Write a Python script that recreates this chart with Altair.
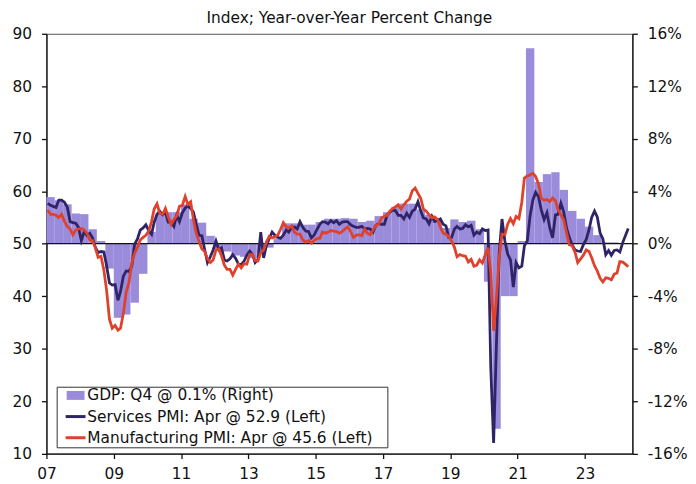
import altair as alt
import pandas as pd

title_text = "Index; Year-over-Year Percent Change"
gdp_label = "GDP: Q4 @ 0.1% (Right)"
svc_label = "Services PMI: Apr @ 52.9 (Left)"
mfg_label = "Manufacturing PMI: Apr @ 45.6 (Left)"

# Quarterly GDP, year-over-year % change, 2007 Q1 .. 2023 Q4
gdp_yoy = [
    3.55, 3.3, 3.0, 2.3,
    2.25, 1.1, 0.2, -1.9,
    -5.65, -5.4, -4.5, -2.3,
    0.9, 2.3, 2.4, 2.4,
    3.0, 1.9, 1.6, 0.6,
    -0.4, -0.6, -0.9, -1.0,
    -1.1, -0.7, -0.3, 0.4,
    1.55, 1.55, 1.45, 1.45,
    1.65, 1.9, 1.9, 1.95,
    1.9, 1.65, 1.75, 2.1,
    2.4, 2.8, 3.05, 3.05,
    2.6, 2.2, 1.75, 1.2,
    1.85, 1.65, 1.75, 1.1,
    -2.9, -14.1, -4.0, -4.0,
    0.2, 14.9, 4.7, 5.3,
    5.45, 4.1, 2.5, 1.9,
    1.3, 0.65, 0.1, 0.1,
]

# Monthly Services PMI, Jan 2007 .. Apr 2024
services_pmi = [
    57.7, 57.3, 57.1, 56.9, 58.3, 58.3, 57.9, 57.0, 54.2, 54.0, 53.9, 53.1,
    50.6, 52.3, 51.6, 52.0, 51.1, 49.3, 48.3, 48.5, 48.4, 45.8, 42.5, 42.1,
    42.2, 39.2, 40.9, 43.8, 44.8, 44.7, 45.7, 49.9, 50.9, 52.6, 53.0, 53.6,
    52.5, 51.8, 54.1, 55.6, 56.2, 55.5, 56.0, 54.1, 54.1, 53.3, 55.4, 54.2,
    55.9, 56.8, 57.2, 56.7, 56.0, 53.7, 51.6, 51.5, 48.8, 46.4, 47.5, 48.8,
    50.5, 48.8, 49.2, 46.9, 46.7, 47.1, 47.9, 47.2, 46.1, 46.0, 46.7, 47.8,
    48.6, 47.9, 46.4, 47.0, 52.2, 47.3, 49.6, 51.0, 52.2, 51.6, 51.2, 51.0,
    51.6, 52.6, 52.2, 53.1, 53.2, 52.8, 54.2, 53.1, 52.4, 52.3, 51.1, 51.6,
    52.7, 53.7, 54.2, 54.1, 53.8, 54.4, 54.0, 54.4, 53.7, 54.1, 54.2, 54.2,
    53.6, 53.3, 53.1, 53.1, 53.3, 52.8, 52.9, 52.8, 52.2, 53.5, 53.8, 53.7,
    53.7, 55.5, 56.0, 56.4, 56.3, 55.4, 55.4, 54.7, 55.8, 55.0, 56.2, 56.6,
    58.0, 56.2, 54.9, 54.7, 53.8, 55.2, 54.2, 54.4, 54.7, 53.7, 53.4, 51.2,
    51.2, 52.8, 53.3, 52.8, 52.9, 53.6, 53.2, 53.5, 51.6, 52.2, 51.9, 52.8,
    52.5, 52.6, 26.4, 12.0, 30.5, 48.3, 54.7, 50.5, 48.0, 46.9, 41.7, 46.4,
    45.4, 45.7, 49.6, 50.5, 55.2, 58.3, 59.8, 59.0, 56.4, 54.6, 55.9, 53.1,
    51.1, 55.5, 55.6, 57.7, 56.1, 53.0, 51.2, 49.8, 48.8, 48.6, 48.5, 49.8,
    50.8, 52.7, 55.0, 56.2, 55.1, 52.0, 50.9, 47.9, 48.7, 47.8, 48.7, 48.8,
    48.4, 50.2, 51.5, 52.9,
]

# Monthly Manufacturing PMI, Jan 2007 .. Apr 2024
manufacturing_pmi = [
    56.4, 55.6, 55.6, 55.4, 55.0, 55.6, 54.3, 53.3, 52.8, 51.7, 52.6, 52.8,
    52.9, 52.6, 52.0, 50.7, 50.6, 49.2, 47.4, 47.6, 45.0, 41.1, 35.6, 33.9,
    34.4, 33.5, 33.9, 36.8, 40.7, 42.6, 46.3, 48.2, 49.3, 50.7, 51.2, 51.6,
    52.4, 54.2, 56.6, 57.6, 55.8, 55.6, 56.7, 55.1, 53.7, 54.6, 55.3, 57.1,
    57.3, 59.0, 57.5, 58.0, 54.6, 52.0, 50.4, 49.0, 48.5, 47.1, 46.4, 46.9,
    48.8, 49.0, 47.7, 45.9, 45.1, 45.1, 44.0, 45.1, 46.1, 45.4, 46.2, 46.1,
    47.9, 47.9, 46.8, 46.7, 48.3, 48.8, 50.3, 51.4, 51.1, 51.3, 51.6, 52.7,
    54.0, 53.2, 53.0, 53.4, 52.2, 51.8, 51.8, 50.7, 50.3, 50.6, 50.1, 50.6,
    51.0, 51.0, 52.2, 52.0, 52.2, 52.5, 52.4, 52.3, 52.0, 52.3, 52.8, 53.2,
    52.3, 51.2, 51.6, 51.7, 51.5, 52.8, 52.0, 51.7, 52.6, 53.5, 53.7, 54.9,
    55.2, 55.4, 56.2, 56.7, 57.0, 57.4, 56.6, 57.4, 58.1, 58.5, 60.1, 60.6,
    59.6, 58.6, 56.6, 56.2, 55.5, 54.9, 55.1, 54.6, 53.2, 52.0, 51.8, 51.4,
    50.5, 49.3, 47.5, 47.9, 47.7, 47.6, 46.5, 47.0, 45.7, 45.9, 46.9, 46.3,
    47.9, 49.2, 44.5, 33.4, 39.4, 47.4, 51.8, 51.7, 53.7, 54.8, 53.8, 55.2,
    54.8, 57.9, 62.5, 62.9, 63.1, 63.4, 62.8, 61.4, 58.6, 58.3, 58.4, 58.0,
    58.7, 58.2, 56.5, 55.5, 54.6, 52.1, 49.8, 49.6, 48.4, 46.4, 47.1, 47.8,
    48.8, 48.5, 47.3, 45.8, 44.8, 43.4, 42.7, 43.5, 43.4, 43.1, 44.2, 44.4,
    46.6, 46.5, 46.1, 45.6,
]

left_ticks = list(range(10, 91, 10))
right_ticks = list(range(-16, 17, 4))
year_ticks = list(range(2007, 2025, 2))
zero_line = [50]

series_names = [gdp_label, svc_label, mfg_label]
series_colors = ["#9b8bdb", "#2e2466", "#e0412b"]
legend_shapes = [
    "M-1.2,-0.6H1.2V0.6H-1.2Z",
    "M-1.333,-0.2H1.333V0.2H-1.333Z",
    "M-1.333,-0.2H1.333V0.2H-1.333Z",
]

months = pd.date_range("2007-01-01", periods=len(services_pmi), freq="MS")
quarters = pd.date_range("2007-01-01", periods=len(gdp_yoy) + 1, freq="QS")
month_mid = [d.strftime("%Y-%m-15") for d in months]

svc_df = pd.DataFrame({"date": month_mid, "value": services_pmi, "series": svc_label})
mfg_df = pd.DataFrame({"date": month_mid, "value": manufacturing_pmi, "series": mfg_label})
bar_df = pd.DataFrame({
    "start": [q.strftime("%Y-%m-%d") for q in quarters[:-1]],
    "end": [q.strftime("%Y-%m-%d") for q in quarters[1:]],
    "value": gdp_yoy,
    "series": gdp_label,
})
zero_df = pd.DataFrame({"v": zero_line})

FONT = "DejaVu Sans"
FS = 15.5

x_scale = alt.Scale(
    type="utc",
    domain=[alt.DateTime(year=2007, month=1, date=1, utc=True),
            alt.DateTime(year=2024, month=5, date=30, utc=True)],
)
x_axis = alt.Axis(
    values=[alt.DateTime(year=y, month=1, date=1, utc=True) for y in year_ticks],
    format="%y", title=None, labelFlush=False, labelPadding=8,
)
color_scale = alt.Scale(domain=series_names, range=series_colors)

bars = alt.Chart(bar_df).mark_rect(opacity=1).encode(
    x=alt.X("start:T", scale=x_scale, axis=x_axis),
    x2="end:T",
    y=alt.Y("value:Q", scale=alt.Scale(domain=[-16, 16], nice=False, zero=False),
            axis=alt.Axis(orient="right", values=right_ticks, title=None,
                          labelExpr="datum.value + '%'")),
    y2=alt.datum(0),
    color=alt.Color("series:N", scale=color_scale),
)

y_left = alt.Scale(domain=[10, 90], nice=False, zero=False)
y_left_axis = alt.Axis(orient="left", values=left_ticks, title=None)

rule = alt.Chart(zero_df).mark_rule(color="#111", strokeWidth=1.4).encode(
    y=alt.Y("v:Q", scale=y_left, axis=y_left_axis)
)

svc_line = alt.Chart(svc_df).mark_line(strokeWidth=2.8).encode(
    x=alt.X("date:T", scale=x_scale, axis=x_axis),
    y=alt.Y("value:Q", scale=y_left, axis=y_left_axis),
    color=alt.Color("series:N", scale=color_scale),
)
mfg_line = alt.Chart(mfg_df).mark_line(strokeWidth=2.8).encode(
    x=alt.X("date:T", scale=x_scale, axis=x_axis),
    y=alt.Y("value:Q", scale=y_left, axis=y_left_axis),
    color=alt.Color("series:N", scale=color_scale),
)

legend_params = dict(title=" ", titleOrient="right", titlePadding=14, titleFontSize=FS)
legend_layer = alt.Chart(svc_df).transform_filter("false").mark_point(
    filled=True, opacity=1
).encode(
    color=alt.Color("series:N", scale=color_scale, legend=alt.Legend(**legend_params)),
    shape=alt.Shape("series:N", scale=alt.Scale(domain=series_names, range=legend_shapes),
                    legend=alt.Legend(**legend_params)),
)

lines = alt.layer(rule, svc_line, mfg_line, legend_layer)

chart = alt.layer(bars, lines).resolve_scale(y="independent").properties(
    width=590,
    height=422.7,
    title=alt.TitleParams(title_text, font=FONT, fontSize=FS, fontWeight="normal",
                          color="#111", anchor="middle", offset=0.5, dx=10),
    autosize=alt.AutoSizeParams(type="none"),
    padding={"left": 38.7, "top": 24.3, "right": 56, "bottom": 29},
).configure(font=FONT).configure_view(
    stroke="#555", strokeWidth=1
).configure_axis(
    grid=False, domainColor="#111", domainWidth=1.3, tickColor="#111", tickWidth=1.3,
    tickSize=5, labelPadding=10, labelFont=FONT, labelFontSize=FS, labelColor="#111",
).configure_legend(
    orient="none", legendX=10.3, legendY=355.4, direction="vertical",
    fillColor="white", strokeColor="#333", strokeWidth=1, padding=1,
    rowPadding=4.3, symbolSize=225, symbolStrokeWidth=0, symbolOffset=10.3,
    labelOffset=4, labelFont=FONT, labelFontSize=FS, labelColor="#111",
    labelLimit=500, symbolOpacity=1,
)

chart.save("out.html", embed_options={"renderer": "svg", "actions": False})
